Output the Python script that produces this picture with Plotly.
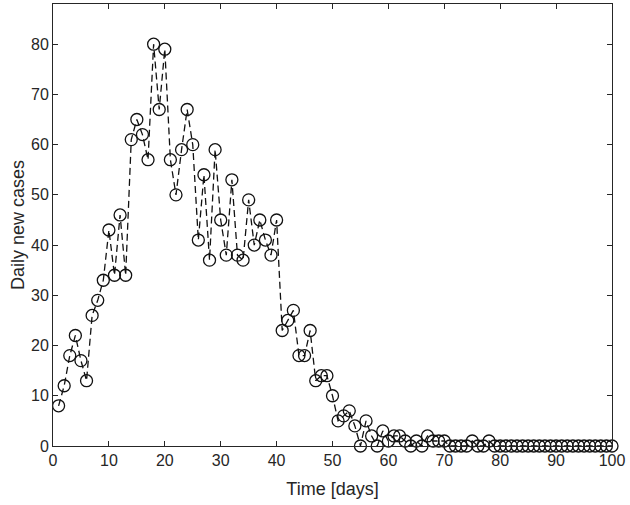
import plotly.graph_objects as go

days = list(range(1, 101))
cases = [8, 12, 18, 22, 17, 13, 26, 29, 33, 43,
         34, 46, 34, 61, 65, 62, 57, 80, 67, 79,
         57, 50, 59, 67, 60, 41, 54, 37, 59, 45,
         38, 53, 38, 37, 49, 40, 45, 41, 38, 45,
         23, 25, 27, 18, 18, 23, 13, 14, 14, 10,
         5, 6, 7, 4, 0, 5, 2, 0, 3, 1,
         2, 2, 1, 0, 1, 0, 2, 1, 1, 1,
         0, 0, 0, 0, 1, 0, 0, 1, 0, 0,
         0, 0, 0, 0, 0, 0, 0, 0, 0, 0,
         0, 0, 0, 0, 0, 0, 0, 0, 0, 0]

x_ticks = list(range(0, 101, 10))
y_ticks = list(range(0, 81, 10))

axis_color = "#262626"
font_family = "Liberation Sans, Arial, sans-serif"

fig = go.Figure()
fig.add_trace(go.Scatter(
    x=days, y=cases, mode="lines+markers",
    line=dict(color="#111111", width=1.3, dash="7px,4px"),
    marker=dict(symbol="circle-open", size=12, color="#111111",
                line=dict(width=1.3, color="#111111")),
    cliponaxis=False, showlegend=False,
))

common = dict(
    showgrid=False, zeroline=False, showline=True, mirror="ticks",
    linecolor=axis_color, linewidth=1, ticks="inside", ticklen=5,
    tickcolor=axis_color, automargin=False,
    tickfont=dict(family=font_family, size=16, color=axis_color),
)

fig.update_layout(
    width=630, height=505,
    margin=dict(l=53, r=18, t=4, b=59),
    paper_bgcolor="white", plot_bgcolor="white",
    font=dict(family=font_family, color=axis_color),
    xaxis=dict(range=[0, 100], tickvals=x_ticks,
               title=dict(text="Time [days]", font=dict(size=18, family=font_family, color=axis_color), standoff=14),
               **common),
    yaxis=dict(range=[0, 88], tickvals=y_ticks,
               title=dict(text="Daily new cases", font=dict(size=18, family=font_family, color=axis_color), standoff=1),
               **common),
)

fig.write_html("out.html", config={"displayModeBar": False},
               post_script="document.body.style.margin='0';document.body.style.overflow='hidden';")
